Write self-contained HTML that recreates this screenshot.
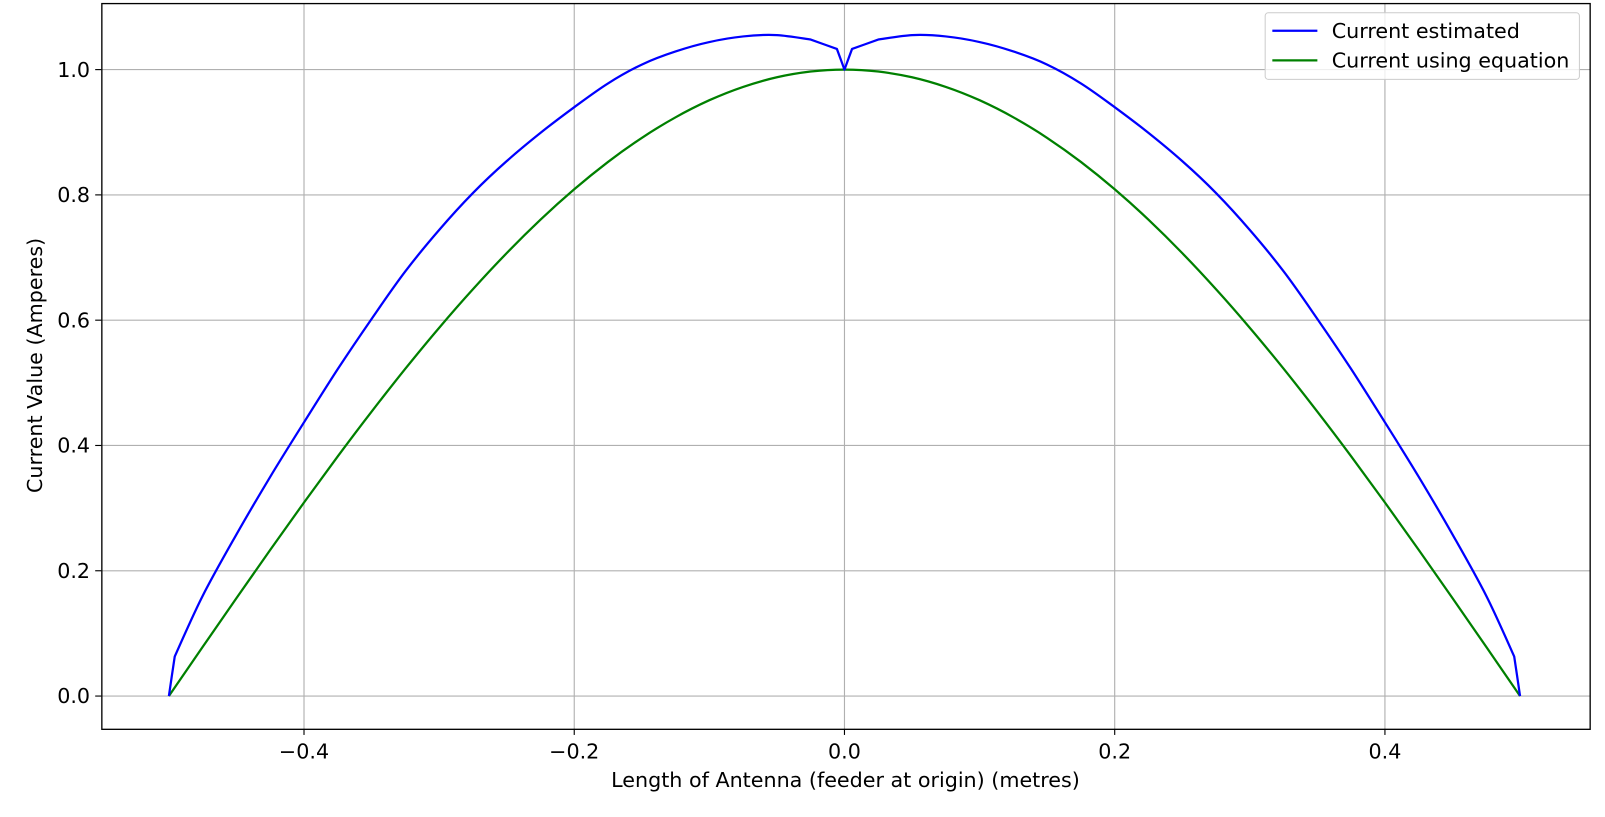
<!DOCTYPE html>
<html><head><meta charset="utf-8"><style>
html,body{margin:0;padding:0;background:#fff;overflow:hidden;width:1605px;height:817px}
svg{display:block}
svg text{font-family:"DejaVu Sans","Liberation Sans",sans-serif;font-size:20.2px;fill:#000}
</style></head><body>
<svg id="chart" width="1605" height="817" xmlns="http://www.w3.org/2000/svg">
<g transform="scale(1.0236)">
<g id="grid"></g>
<g id="series"></g>
<rect x="99.5" y="3.5" width="1454" height="709" fill="none" stroke="#000" stroke-width="1.3"/>
<g id="ticks"></g>
<text x="826" y="769" text-anchor="middle">Length of Antenna (feeder at origin) (metres)</text>
<text transform="translate(41,357) rotate(-90)" text-anchor="middle">Current Value (Amperes)</text>
<g>
<rect x="1236" y="12.5" width="307" height="65" rx="3" fill="#fff" fill-opacity="0.8" stroke="#ccc"/>
<line x1="1243" y1="30" x2="1287" y2="30" stroke="#0000ff" stroke-width="2.2"/>
<text x="1301" y="37">Current estimated</text>
<line x1="1243" y1="59" x2="1287" y2="59" stroke="#008000" stroke-width="2.2"/>
<text x="1301" y="66">Current using equation</text>
</g>
</g>
</svg>
<script>
const xPos = [0, 0.0056, 0.025, 0.05, 0.075, 0.1, 0.125, 0.15, 0.175, 0.2, 0.225, 0.25, 0.275, 0.3, 0.325, 0.35, 0.375, 0.4, 0.425, 0.45, 0.475, 0.4957, 0.5];
const estimated = [1.0, 1.033, 1.048, 1.055, 1.053, 1.044, 1.029, 1.008, 0.978, 0.940, 0.899, 0.854, 0.803, 0.744, 0.678, 0.602, 0.522, 0.437, 0.350, 0.258, 0.160, 0.063, 0];
const xEq = [0, 0.025, 0.05, 0.075, 0.1, 0.125, 0.15, 0.175, 0.2, 0.225, 0.25, 0.275, 0.3, 0.325, 0.35, 0.375, 0.4, 0.425, 0.45, 0.475, 0.5];
const equation = [1, 0.9969, 0.9877, 0.9724, 0.9511, 0.9239, 0.8910, 0.8526, 0.8090, 0.7604, 0.7071, 0.6494, 0.5878, 0.5225, 0.4540, 0.3827, 0.3090, 0.2334, 0.1564, 0.0785, 0];
const xTicks = [-0.4, -0.2, 0, 0.2, 0.4];
const xTickLabels = ["\u22120.4", "\u22120.2", "0.0", "0.2", "0.4"];
const yTicks = [0, 0.2, 0.4, 0.6, 0.8, 1.0];
const yTickLabels = ["0.0", "0.2", "0.4", "0.6", "0.8", "1.0"];

const NS = "http://www.w3.org/2000/svg";
const sx = v => 825 + v * 1320;
const sy = v => 680 - v * 612;
const grid = document.getElementById('grid'), ticks = document.getElementById('ticks'), series = document.getElementById('series');
function mk(tag, attrs, parent){const e=document.createElementNS(NS,tag);for(const k in attrs)e.setAttribute(k,attrs[k]);parent.appendChild(e);return e;}
xTicks.forEach((t,i)=>{
  const g = mk('line',{x1:sx(t),x2:sx(t),y1:3,y2:712,stroke:'#b0b0b0','stroke-width':1.1},grid);
  
  
  const tk = mk('line',{x1:sx(t),x2:sx(t),y1:712,y2:718,stroke:'#000','stroke-width':1.1},ticks);
  
  
  const tx = mk('text',{x:sx(t),y:741,'text-anchor':'middle'},ticks);
  tx.textContent = xTickLabels[i];
  
  
});
yTicks.forEach((t,i)=>{
  const g = mk('line',{x1:99,x2:1553,y1:sy(t),y2:sy(t),stroke:'#b0b0b0','stroke-width':1.1},grid);
  
  
  const tk = mk('line',{x1:93,x2:99,y1:sy(t),y2:sy(t),stroke:'#000','stroke-width':1.1},ticks);
  
  
  const tx = mk('text',{x:88,y:sy(t)+7,'text-anchor':'end'},ticks);
  tx.textContent = yTickLabels[i];
  
  
});
function symPts(xs, ys){
  const pts=[];
  for(let i=xs.length-1;i>=0;i--) pts.push([sx(-xs[i]),sy(ys[i])]);
  for(let i=1;i<xs.length;i++) pts.push([sx(xs[i]),sy(ys[i])]);
  return pts;
}
function smoothPath(pts, sharp){
  let d='M'+pts[0][0].toFixed(1)+','+pts[0][1].toFixed(1);
  for(let i=0;i<pts.length-1;i++){
    const p0=pts[i], p3=pts[i+1];
    const pm=(i===0||sharp.has(i))?p0:pts[i-1];
    const pn=(i+2>=pts.length||sharp.has(i+1))?p3:pts[i+2];
    const c1=[p0[0]+(p3[0]-pm[0])/6,p0[1]+(p3[1]-pm[1])/6];
    const c2=[p3[0]-(pn[0]-p0[0])/6,p3[1]-(pn[1]-p0[1])/6];
    d+=' C'+c1.map(v=>v.toFixed(1)).join(',')+' '+c2.map(v=>v.toFixed(1)).join(',')+' '+p3[0].toFixed(1)+','+p3[1].toFixed(1);
  }
  return d;
}
const ge = symPts(xEq,equation);
const pe = mk('path',{d:smoothPath(ge,new Set()),fill:'none',stroke:'#008000','stroke-width':2.2},series);


const gb = symPts(xPos,estimated);
const n = xPos.length;
const sharpB = new Set([1, n-3, n-2, n-1, n, n+1, 2*n-3]);
const pb = mk('path',{d:smoothPath(gb,sharpB),fill:'none',stroke:'#0000ff','stroke-width':2.2,'stroke-linejoin':'round'},series);


</script>
</body></html>
